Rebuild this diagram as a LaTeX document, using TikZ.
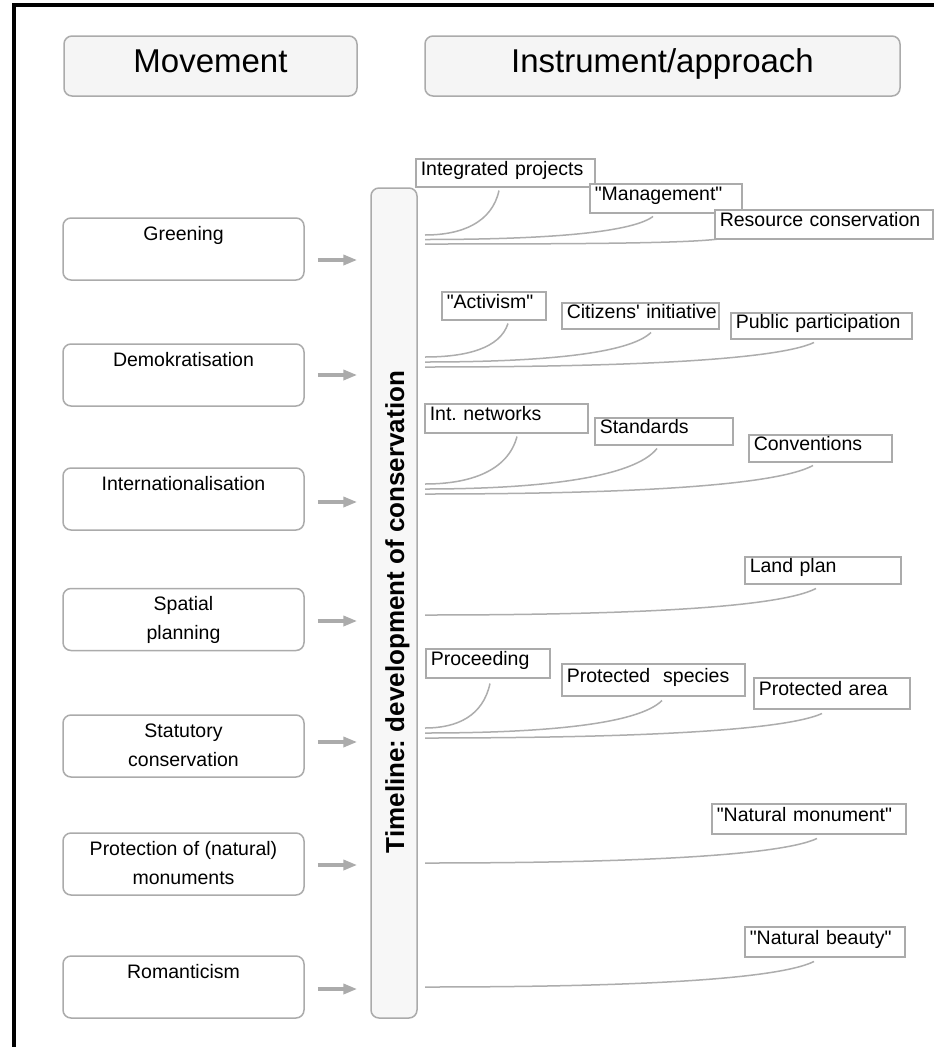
\documentclass[tikz,border=0pt]{standalone}
\usepackage{graphicx}
\usepackage{fontspec}
\setmainfont{Liberation Sans}[Ligatures=TeXOff]
\usetikzlibrary{arrows.meta,calc,backgrounds}
\definecolor{bgray}{HTML}{ABABAB}
\definecolor{lgray}{HTML}{ADADAD}
\definecolor{agray}{HTML}{ABABAB}
\definecolor{hfill}{HTML}{F5F5F5}
\definecolor{barfill}{HTML}{F7F7F7}
\begin{document}
\frenchspacing
\begin{tikzpicture}[x=1pt,y=-1pt,
  hdr/.style={draw=bgray, fill=hfill, rounded corners=8pt, line width=1.5pt, minimum height=60pt, inner sep=0pt, font=\fontsize{33}{40}\selectfont, text height=24pt, text depth=12pt},
  mov/.style={draw=bgray, fill=white, rounded corners=8pt, line width=1.5pt, minimum width=241pt, minimum height=62pt, inner sep=0pt, align=center, font=\fontsize{19.5}{29}\selectfont},
  lbl/.style={draw=bgray, fill=white, line width=1.5pt, anchor=north west, align=left, inner xsep=5pt, inner ysep=0pt, font=\fontsize{19.5}{24}\selectfont, text height=0.75em, text depth=0.25em},
  conn/.style={draw=lgray, line width=1.5pt},
  arr/.style={draw=agray, line width=3.5pt, -{Triangle[length=14pt,width=10pt]}, shorten <=13pt, shorten >=13pt}
]
\useasboundingbox (0,0) rectangle (934,1047);

% frame
\draw[line width=4pt, black, line join=miter] (14,1047) -- (14,5) -- (934,5);

% headers
\node[hdr, minimum width=293pt] (hmov) at (210.5,66) {Movement};
\node[hdr, minimum width=475pt] (hins) at (662.5,66) {Instrument/approach};

% movement boxes
\node[mov] (gre) at (183.5,249) {\strut Greening\\\strut};
\node[mov] (dem) at (183.5,375) {\strut Demokratisation\\\strut};
\node[mov] (int) at (183.5,499) {\strut Internationalisation\\\strut};
\node[mov] (spa) at (183.5,619.5) {\strut Spatial\\\strut planning};
\node[mov] (sta) at (183.5,746) {\strut Statutory\\\strut conservation};
\node[mov] (pro) at (183.5,864) {\strut Protection of (natural)\\\strut monuments};
\node[mov] (rom) at (183.5,987) {\strut Romanticism\\\strut};

% timeline bar
\node[draw=bgray, fill=barfill, rounded corners=8pt, line width=1.5pt, minimum width=46pt, minimum height=830pt, inner sep=0pt] (bar) at (394,603) {};
\node[rotate=90, font=\bfseries\fontsize{26}{30}\selectfont, inner sep=0pt] (bartxt) at (397.5,612) {Timeline: development of conservation};

% arrows
\draw[arr] ([yshift=-11pt]gre.east) -- ([yshift=-11pt]gre.east -| bar.west);
\draw[arr] (dem.east) -- (dem.east -| bar.west);
\draw[arr] ([yshift=-3pt]int.east) -- ([yshift=-3pt]int.east -| bar.west);
\draw[arr] ([yshift=-1.5pt]spa.east) -- ([yshift=-1.5pt]spa.east -| bar.west);
\draw[arr] ([yshift=4pt]sta.east) -- ([yshift=4pt]sta.east -| bar.west);
\draw[arr] ([yshift=-1pt]pro.east) -- ([yshift=-1pt]pro.east -| bar.west);
\draw[arr] ([yshift=-2pt]rom.east) -- ([yshift=-2pt]rom.east -| bar.west);

% instrument labels
\node[lbl, text width=169pt, minimum height=28pt] (ip) at (415,158) {\mbox{Integrated projects}};
\node[lbl, text width=142pt, minimum height=29pt] (mg) at (589,183) {\mbox{"Management"}};
\node[lbl, text width=208pt, minimum height=29pt] (rc) at (714,209) {\mbox{Resource conservation}};
\node[lbl, text width=94pt, minimum height=28pt] (ac) at (441,291) {\mbox{"Activism"}};
\node[lbl, text width=147pt, minimum height=26pt] (ci) at (561,302) {\mbox{Citizens' initiative}};
\node[lbl, text width=171pt, minimum height=26pt] (pp) at (730,312) {\mbox{Public participation}};
\node[lbl, text width=153pt, minimum height=29pt] (in) at (424,403) {\mbox{Int. networks}};
\node[lbl, text width=128pt, minimum height=27pt] (st) at (594,417) {\mbox{Standards}};
\node[lbl, text width=133pt, minimum height=27pt] (cv) at (748,434) {\mbox{Conventions}};
\node[lbl, text width=146pt, minimum height=27pt] (lp) at (744,556) {\mbox{Land plan}};
\node[lbl, text width=114pt, minimum height=29pt] (pr) at (425,648) {\mbox{Proceeding}};
\node[lbl, text width=173pt, minimum height=32pt] (ps) at (561,663) {\mbox{Protected\ \ species}};
\node[lbl, text width=146pt, minimum height=31pt] (pa) at (753,677) {\mbox{Protected area}};
\node[lbl, text width=184pt, minimum height=30pt] (nm) at (711,803) {\mbox{"Natural monument"}};
\node[lbl, text width=150pt, minimum height=30pt] (nb) at (744,926) {\mbox{"Natural beauty"}};

% start points of connectors
\coordinate (g1) at (425,235);
\coordinate (g2) at (425,239.5);
\coordinate (g3) at (425,244);
\coordinate (d1) at (425,357);
\coordinate (d2) at (425,362);
\coordinate (d3) at (425,367);
\coordinate (i1) at (425,484);
\coordinate (i2) at (425,489);
\coordinate (i3) at (425,494);
\coordinate (s1) at (425,615);
\coordinate (t1) at (425,728);
\coordinate (t2) at (425,733);
\coordinate (t3) at (425,738);
\coordinate (p1) at (425,863);
\coordinate (r1) at (425,987);

\begin{scope}[on background layer]
\fill[white] (0,0) rectangle (934,1047);
\draw[conn] (g1) .. controls +(37,0) and +(-7,32) .. ($(ip.south west)+(84,3)$);
\draw[conn] (g2) .. controls +(114,0) and +(-23,17) .. ($(mg.south west)+(64,3)$);
\draw[conn] (g3) .. controls +(148,0) and +(-30,5) .. ($(rc.south west)+(8,-1)$);
\draw[conn] (d1) .. controls +(41,0) and +(-8,25) .. ($(ac.south west)+(67,3)$);
\draw[conn] (d2) .. controls +(113,0) and +(-23,22) .. ($(ci.south west)+(90,3)$);
\draw[conn] (d3) .. controls +(195,0) and +(-39,18) .. ($(pp.south west)+(84,3)$);
\draw[conn] (i1) .. controls +(46,0) and +(-9,34) .. ($(in.south west)+(93,3)$);
\draw[conn] (i2) .. controls +(116,0) and +(-23,29) .. ($(st.south west)+(63,3)$);
\draw[conn] (i3) .. controls +(194,0) and +(-39,21) .. ($(cv.south west)+(65,3)$);
\draw[conn] (s1) .. controls +(195,0) and +(-39,20) .. ($(lp.south west)+(72,4)$);
\draw[conn] (t1) .. controls +(33,0) and +(-7,32) .. ($(pr.south west)+(65,5)$);
\draw[conn] (t2) .. controls +(118,0) and +(-24,24) .. ($(ps.south west)+(101,4)$);
\draw[conn] (t3) .. controls +(198,0) and +(-40,18) .. ($(pa.south west)+(69,4)$);
\draw[conn] (p1) .. controls +(196,0) and +(-39,18) .. ($(nm.south west)+(106,4)$);
\draw[conn] (r1) .. controls +(195,0) and +(-39,19) .. ($(nb.south west)+(70,4)$);
\end{scope}
\end{tikzpicture}
\end{document}
